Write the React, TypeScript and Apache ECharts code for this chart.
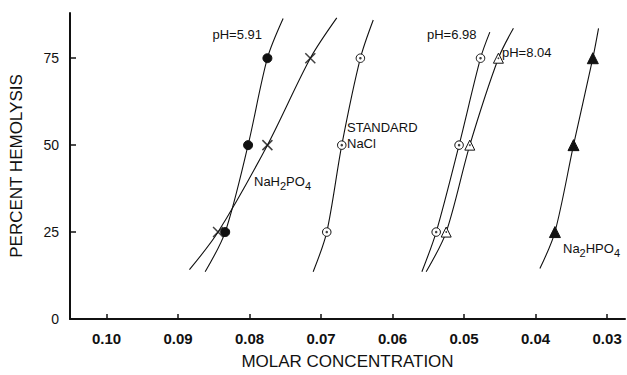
import React, { useEffect, useRef } from "react";
import * as echarts from "echarts";

const yLevels = [25, 50, 75];
const xTicks = [0.1, 0.09, 0.08, 0.07, 0.06, 0.05, 0.04, 0.03];
const yTicks = [0, 25, 50, 75];

// concentrations read at 25, 50, 75 % hemolysis
const ph591X = [0.0834, 0.0802, 0.0775];
const nah2po4X = [0.0844, 0.0775, 0.0715];
const naclX = [0.0692, 0.0671, 0.0645];
const ph698X = [0.0539, 0.0507, 0.0477];
const ph804X = [0.0525, 0.0492, 0.0452];
const na2hpo4X = [0.0373, 0.0347, 0.032];

// curve end points [x, y]: bottom, top
const ph591Ends = [[0.0862, 13.6], [0.0753, 86.4]];
const nah2po4Ends = [[0.0884, 14.2], [0.0678, 86.6]];
const naclEnds = [[0.0711, 13.6], [0.0627, 86.0]];
const ph698Ends = [[0.0559, 13.6], [0.0464, 82.5]];
const ph804Ends = [[0.0553, 13.6], [0.0431, 83.6]];
const na2hpo4Ends = [[0.0394, 14.5], [0.0312, 83.6]];

const pts = (xs: number[]) => xs.map((x, i) => [x, yLevels[i]]);
const curve = (xs: number[], ends: number[][]) => [ends[0], ...pts(xs), ends[1]];

const FONT = "'Liberation Sans', Arial, sans-serif";

export default function App() {
  const ref = useRef<HTMLDivElement>(null);
  useEffect(() => {
    if (!ref.current) return;
    const chart = echarts.init(ref.current, null, { renderer: "svg" });
    const lineSeries = (data: number[][]) => ({
      type: "line",
      data,
      smooth: 0.3,
      symbol: "none",
      lineStyle: { color: "#111", width: 1.1 },
      z: 1,
    });
    const markerStyle = (fill: string) => ({
      color: fill,
      borderColor: "#111",
      borderWidth: 1,
      opacity: 1,
    });
    const dot = (xs: number[]) => ({
      type: "scatter",
      data: pts(xs),
      symbol: "circle",
      symbolSize: 2.5,
      itemStyle: { color: "#111" },
      z: 4,
    });
    chart.setOption({
      animation: false,
      backgroundColor: "#fff",
      grid: { left: 63, right: 2, top: 13, bottom: 47 },
      xAxis: {
        type: "value",
        inverse: true,
        min: 0.0275,
        max: 0.1051,
        name: "MOLAR CONCENTRATION",
        nameLocation: "middle",
        nameGap: 34,
        nameTextStyle: { fontFamily: FONT, fontSize: 17, color: "#111" },
        axisLine: { lineStyle: { color: "#111", width: 2 } },
        axisTick: { inside: true, length: 5, lineStyle: { color: "#111", width: 1.5 }, customValues: xTicks },
        axisLabel: {
          customValues: xTicks,
          formatter: (v: number) => v.toFixed(2),
          fontFamily: FONT,
          fontSize: 15,
          fontWeight: "bold",
          color: "#111",
          margin: 12,
        },
        splitLine: { show: false },
      },
      yAxis: {
        type: "value",
        min: 0,
        max: 88,
        name: "PERCENT HEMOLYSIS",
        nameLocation: "middle",
        nameGap: 45,
        nameTextStyle: { fontFamily: FONT, fontSize: 17, color: "#111" },
        axisLine: { show: true, lineStyle: { color: "#111", width: 2 } },
        axisTick: { show: true, inside: true, length: 6, lineStyle: { color: "#111", width: 1.5 }, customValues: yTicks },
        axisLabel: {
          customValues: yTicks,
          fontFamily: FONT,
          fontSize: 14,
          color: "#111",
          margin: 11,
        },
        splitLine: { show: false },
      },
      series: [
        lineSeries(curve(ph591X, ph591Ends)),
        lineSeries(curve(nah2po4X, nah2po4Ends)),
        lineSeries(curve(naclX, naclEnds)),
        lineSeries(curve(ph698X, ph698Ends)),
        lineSeries(curve(ph804X, ph804Ends)),
        lineSeries(curve(na2hpo4X, na2hpo4Ends)),
        { type: "scatter", data: pts(ph591X), symbol: "circle", symbolSize: 9, itemStyle: markerStyle("#111"), z: 3 },
        {
          type: "scatter",
          data: pts(nah2po4X),
          symbol: "path://M0,0L10,10M10,0L0,10",
          symbolSize: 10,
          itemStyle: { color: "none", borderColor: "#111", borderWidth: 1.5 },
          z: 3,
        },
        { type: "scatter", data: pts(naclX), symbol: "circle", symbolSize: 8.5, itemStyle: markerStyle("#fff"), z: 3 },
        dot(naclX),
        { type: "scatter", data: pts(ph698X), symbol: "circle", symbolSize: 8.5, itemStyle: markerStyle("#fff"), z: 3 },
        dot(ph698X),
        { type: "scatter", data: pts(ph804X), symbol: "triangle", symbolSize: 10, itemStyle: markerStyle("#fff"), z: 3 },
        { ...dot(ph804X), symbolSize: 1.8 },
        { type: "scatter", data: pts(na2hpo4X), symbol: "triangle", symbolSize: 11, itemStyle: markerStyle("#111"), z: 3 },
      ],
      graphic: [
        { type: "text", x: 262, y: 34, style: { text: "pH=5.91", fontFamily: FONT, fontSize: 13, fill: "#111", align: "right", verticalAlign: "middle" } },
        {
          type: "text",
          x: 254,
          y: 181,
          style: {
            text: "{a|NaH}{s|2}{a|PO}{s|4}",
            fill: "#111",
            verticalAlign: "middle",
            rich: {
              a: { fontFamily: FONT, fontSize: 13, fill: "#111" },
              s: { fontFamily: FONT, fontSize: 11, fill: "#111", padding: [9, 0, 0, 0] },
            },
          },
        },
        { type: "text", x: 347, y: 127, style: { text: "STANDARD", fontFamily: FONT, fontSize: 13, fill: "#111", verticalAlign: "middle" } },
        { type: "text", x: 347, y: 143, style: { text: "NaCl", fontFamily: FONT, fontSize: 13, fill: "#111", verticalAlign: "middle" } },
        { type: "text", x: 427, y: 34, style: { text: "pH=6.98", fontFamily: FONT, fontSize: 13, fill: "#111", verticalAlign: "middle" } },
        { type: "text", x: 502, y: 52, style: { text: "pH=8.04", fontFamily: FONT, fontSize: 13, fill: "#111", verticalAlign: "middle" } },
        {
          type: "text",
          x: 563,
          y: 248,
          style: {
            text: "{a|Na}{s|2}{a|HPO}{s|4}",
            fill: "#111",
            verticalAlign: "middle",
            rich: {
              a: { fontFamily: FONT, fontSize: 13, fill: "#111" },
              s: { fontFamily: FONT, fontSize: 11, fill: "#111", padding: [9, 0, 0, 0] },
            },
          },
        },
      ],
    });
    return () => chart.dispose();
  }, []);
  return <div ref={ref} style={{ position: "fixed", left: 0, top: 0, width: 627, height: 375 }} />;
}
